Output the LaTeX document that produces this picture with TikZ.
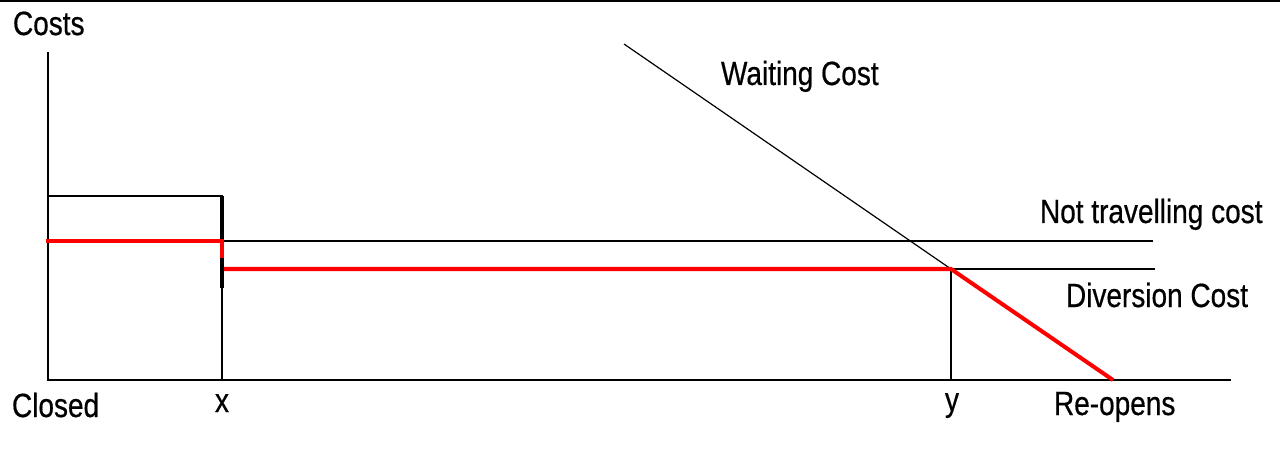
\documentclass[tikz,border=0pt]{standalone}
\usepackage{fontspec}
\setmainfont{Liberation Sans}[FakeBold=0.6]
\newcommand{\tallt}[1]{\scalebox{1}[1.2]{#1}}
\begin{document}
\begin{tikzpicture}[x=1pt, y=-1pt, line width=2pt,
	lbl/.style={inner sep=0pt, font=\fontsize{28}{34}\selectfont},
	cost/.style={red, line width=4pt},
	wait/.style={line width=1.2pt}]
	\useasboundingbox (0,0) rectangle (1280,457);
	\draw (0,1) -- (1280,1);
	% axes
	\coordinate (top) at (48,52);
	\coordinate (O) at (48,380);
	\coordinate (end) at (1231,380);
	\coordinate (xb) at (222,380);
	\coordinate (yb) at (951,380);
	\coordinate (ro) at (1113,380);
	\coordinate (yc) at (951,269);
	\coordinate (wc) at (624,44);
	\draw (top) -- (O) -- (end);
	% closed period
	\draw (48,196) -- (222,196) -- (xb);
	\draw[line width=4pt] (222,196) -- (222,288);
	\draw (222,241) -- (1153,241);
	\draw (yc) -- (1155,269);
	\draw (yc) -- (yb);
	\draw[wait] (wc) -- (yc);
	% cheapest option
	\draw[cost] (46,241) -- (222,241) -- (222,258);
	\draw[cost] (224,269) -- (yc) -- (ro);
	% labels
	\node[lbl, anchor=base west] (costs) at (12,35) {\tallt{Costs}};
	\node[lbl, anchor=base west] (closed) at (11,417) {\tallt{Closed}};
	\node[lbl, anchor=base] (xlab) at (222,412) {\tallt{x}};
	\node[lbl, anchor=base] (ylab) at (952,411) {\tallt{y}};
	\node[lbl, anchor=base west] (reopens) at (1053,415) {\tallt{Re-opens}};
	\node[lbl, anchor=base west] (waiting) at (720,85) {\tallt{Waiting Cost}};
	\node[lbl, anchor=base west] (nottrav) at (1039,223) {\tallt{Not travelling cost}};
	\node[lbl, anchor=base west] (divert) at (1065,307) {\tallt{Diversion Cost}};
\end{tikzpicture}
\end{document}
